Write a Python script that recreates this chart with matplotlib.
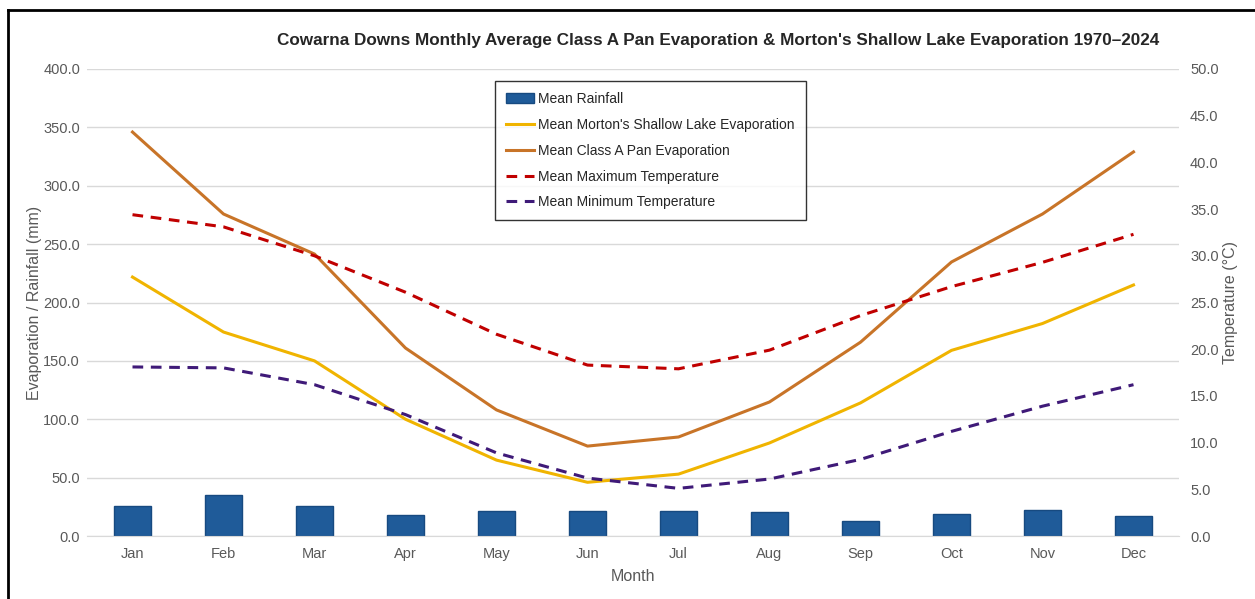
import matplotlib
matplotlib.use("Agg")
import matplotlib.pyplot as plt
from matplotlib.lines import Line2D
import numpy as np

months = ["Jan", "Feb", "Mar", "Apr", "May", "Jun", "Jul", "Aug", "Sep", "Oct", "Nov", "Dec"]
rainfall = [25.7, 35.1, 25.7, 18.0, 21.0, 21.0, 21.4, 20.3, 12.8, 19.0, 22.3, 17.1]
morton = [221.8, 174.7, 150.0, 100.0, 65.0, 46.0, 53.0, 79.7, 114.0, 159.0, 182.0, 215.0]
class_a = [346.0, 275.8, 241.5, 161.0, 108.0, 77.0, 84.8, 114.8, 166.0, 234.7, 275.8, 329.0]
max_temp = [34.4, 33.1, 30.0, 26.1, 21.6, 18.3, 17.9, 19.9, 23.6, 26.7, 29.3, 32.3]
min_temp = [18.1, 18.0, 16.2, 13.0, 8.9, 6.2, 5.1, 6.1, 8.2, 11.2, 13.9, 16.2]
left_ticks = [0, 50, 100, 150, 200, 250, 300, 350, 400]
right_ticks = [0, 5, 10, 15, 20, 25, 30, 35, 40, 45, 50]

plt.rcParams['font.family'] = ['Liberation Sans', 'DejaVu Sans']
W, H = 1255, 599
fig = plt.figure(figsize=(W / 100, H / 100), dpi=100)
ax = fig.add_axes([87 / W, (H - 536) / H, (1179 - 87) / W, (536 - 69) / H])
ax2 = ax.twinx()

x = np.arange(len(months))
grey = "#595959"

ax.bar(x, rainfall, width=0.4, color="#1f5b99", edgecolor="#174a80", linewidth=1, zorder=2,
       label="Mean Rainfall")
ax.plot(x, morton, color="#f0b400", lw=2.2, zorder=3, label="Mean Morton's Shallow Lake Evaporation")
ax.plot(x, class_a, color="#c87428", lw=2.2, zorder=3, label="Mean Class A Pan Evaporation")
ax2.plot(x, max_temp, color="#c00000", lw=2.2, ls=(0, (3.5, 2.5)), label="Mean Maximum Temperature")
ax2.plot(x, min_temp, color="#3f1a78", lw=2.2, ls=(0, (3.5, 2.5)), label="Mean Minimum Temperature")

ax.set_xlim(-0.5, 11.5)
ax.set_ylim(0, 400)
ax2.set_ylim(0, 50)
ax.set_yticks(left_ticks)
ax.set_yticklabels([f"{v:.1f}" for v in left_ticks])
ax2.set_yticks(right_ticks)
ax2.set_yticklabels([f"{v:.1f}" for v in right_ticks])
ax.set_xticks(x)
ax.set_xticklabels(months)

ax.grid(axis="y", color="#d9d9d9", lw=1, zorder=0)
ax.set_axisbelow(True)
for a in (ax, ax2):
    for s in a.spines.values():
        s.set_visible(False)
    a.tick_params(length=0, colors=grey, labelsize=10.5)
ax.spines["bottom"].set_visible(True)
ax.spines["bottom"].set_color("#d9d9d9")
ax.tick_params(axis="y", pad=5)
ax.tick_params(axis="x", pad=8)
ax2.tick_params(axis="y", pad=8)

ax.set_xlabel("Month", color=grey, fontsize=11.5, labelpad=6)
ax.set_ylabel("Evaporation / Rainfall (mm)", color=grey, fontsize=11.5, labelpad=1)
ax2.set_ylabel("Temperature (°C)", color=grey, fontsize=11.5, labelpad=3)

fig.text(718 / W, 1 - 41 / H, "Cowarna Downs Monthly Average Class A Pan Evaporation & Morton's Shallow Lake Evaporation 1970–2024",
         ha="center", va="center", fontsize=12.3, fontweight="bold", color="#262626")

h1, l1 = ax.get_legend_handles_labels()
h2, l2 = ax2.get_legend_handles_labels()
handles = [h1[2], h1[0], h1[1], h2[0], h2[1]]
labels = [l1[2], l1[0], l1[1], l2[0], l2[1]]
leg = ax2.legend(handles, labels, loc="upper left", bbox_to_anchor=((495 - 87) / (1179 - 87), 1 - (81 - 69) / (536 - 69)),
                 frameon=True, fancybox=False, edgecolor="#000000", fontsize=10,
                 handlelength=2.0, handletextpad=0.3, labelspacing=0.85, borderpad=0.8, borderaxespad=0)
leg.get_frame().set_linewidth(1.0)
for t in leg.get_texts():
    t.set_color("#262626")

fig.add_artist(Line2D([8 / W, 8 / W], [0, 1 - 10 / H], transform=fig.transFigure, color="black", lw=2))
fig.add_artist(Line2D([8 / W, 1], [1 - 10 / H, 1 - 10 / H], transform=fig.transFigure, color="black", lw=2))

fig.savefig("out.png", dpi=100)
